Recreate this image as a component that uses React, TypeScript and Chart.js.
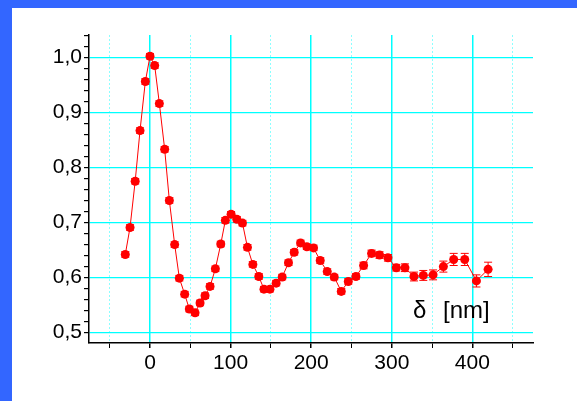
import React, { useEffect, useRef } from 'react';
import { Chart, registerables } from 'chart.js';

Chart.register(...registerables);

// Data
const xValues = [
  -30.7, -24.8, -18.4, -12.4, -5.8, 0, 5.8, 11.6, 18.2, 24, 30.6, 36.4, 43, 48.8, 55.9,
  62.1, 68.3, 74.5, 81.1, 87.8, 93.5, 100.6, 107.7, 114.7, 120.9, 127.6, 135, 141.4,
  148.8, 156.5, 164, 171.8, 178.9, 186.8, 194.6, 202.9, 211.2, 219.9, 228.6, 237.3,
  246, 255.5, 265, 274.9, 284.8, 295.2, 305.6, 316.3, 327.5, 339.1, 351.2, 364, 376.8,
  390.5, 405, 419.5,
];
const yValues = [
  0.642, 0.691, 0.775, 0.867, 0.956, 1.002, 0.985, 0.916, 0.833, 0.74, 0.66, 0.599, 0.57,
  0.543, 0.536, 0.554, 0.567, 0.584, 0.616, 0.661, 0.704, 0.715, 0.706, 0.699, 0.655,
  0.624, 0.602, 0.579, 0.579, 0.59, 0.601, 0.627, 0.646, 0.663, 0.656, 0.654, 0.631,
  0.611, 0.601, 0.575, 0.593, 0.602, 0.622, 0.644, 0.641, 0.636, 0.618, 0.618, 0.602,
  0.604, 0.605, 0.62, 0.633, 0.633, 0.594, 0.615,
];
const yErrors = [
  0.005, 0.005, 0.005, 0.005, 0.005, 0.005, 0.005, 0.005, 0.005, 0.005, 0.005, 0.005, 0.005,
  0.005, 0.005, 0.005, 0.005, 0.005, 0.005, 0.005, 0.005, 0.005, 0.005, 0.005, 0.005,
  0.005, 0.005, 0.005, 0.005, 0.005, 0.005, 0.005, 0.005, 0.005, 0.005, 0.005, 0.005,
  0.005, 0.005, 0.005, 0.005, 0.005, 0.006, 0.006, 0.006, 0.006, 0.006, 0.007, 0.008,
  0.009, 0.009, 0.01, 0.011, 0.011, 0.011, 0.013,
];
const xTickValues = [-50, 0, 50, 100, 150, 200, 250, 300, 350, 400, 450];
const xTickLabels = ['', '0', '', '100', '', '200', '', '300', '', '400', ''];
const yTickValues = [
  0.5, 0.52, 0.54, 0.56, 0.58, 0.6, 0.62, 0.64, 0.66, 0.68, 0.7, 0.72, 0.74, 0.76, 0.78,
  0.8, 0.82, 0.84, 0.86, 0.88, 0.9, 0.92, 0.94, 0.96, 0.98, 1.0, 1.02, 1.04,
];
const yMajorTicks = [0.5, 0.6, 0.7, 0.8, 0.9, 1.0];
const yTickLabels = ['0,5', '0,6', '0,7', '0,8', '0,9', '1,0'];
const axisSymbol = 'δ';
const axisUnit = '[nm]';

const isMajorX = (v: number) => Math.abs(v % 100) < 1e-6;
const yMajorIndex = (v: number) => yMajorTicks.findIndex((m) => Math.abs(m - v) < 1e-6);

const errorBarPlugin = {
  id: 'errorBars',
  afterDatasetsDraw(chart: any) {
    const { ctx, scales } = chart;
    const xs = scales.x;
    const ys = scales.y;
    ctx.save();
    ctx.strokeStyle = '#ff0000';
    ctx.lineWidth = 1;
    xValues.forEach((xv, i) => {
      const px = xs.getPixelForValue(xv);
      const top = ys.getPixelForValue(yValues[i] + yErrors[i]);
      const bot = ys.getPixelForValue(yValues[i] - yErrors[i]);
      ctx.beginPath();
      ctx.moveTo(px, top);
      ctx.lineTo(px, bot);
      ctx.moveTo(px - 4, top);
      ctx.lineTo(px + 4, top);
      ctx.moveTo(px - 4, bot);
      ctx.lineTo(px + 4, bot);
      ctx.stroke();
    });
    ctx.restore();
  },
};

const axisLabelPlugin = {
  id: 'axisLabel',
  afterDraw(chart: any) {
    const { ctx } = chart;
    ctx.save();
    ctx.fillStyle = '#000';
    ctx.textBaseline = 'alphabetic';
    ctx.textAlign = 'left';
    ctx.font = '24px "Liberation Sans", Arial, sans-serif';
    ctx.fillText(axisSymbol, 413, 318);
    ctx.fillText(axisUnit, 443, 318);
    ctx.restore();
  },
};

export default function App() {
  const canvasRef = useRef<HTMLCanvasElement | null>(null);

  useEffect(() => {
    const canvas = canvasRef.current;
    if (!canvas) return;
    const font = { family: '"Liberation Sans", Arial, sans-serif', size: 21 };
    const chart = new Chart(canvas, {
      type: 'scatter',
      data: {
        datasets: [
          {
            data: xValues.map((x, i) => ({ x, y: yValues[i] })),
            showLine: true,
            borderColor: '#ff0000',
            borderWidth: 1,
            backgroundColor: '#ff0000',
            pointBackgroundColor: '#ff0000',
            pointBorderWidth: 0,
            pointRadius: 4.5,
            tension: 0,
          },
        ],
      },
      options: {
        animation: false,
        responsive: false,
        layout: { padding: { left: 0, top: 35, right: 44, bottom: 0 } },
        plugins: { legend: { display: false }, tooltip: { enabled: false } },
        scales: {
          x: {
            type: 'linear',
            min: -75.7,
            max: 475.2,
            afterBuildTicks: (s: any) => {
              s.ticks = xTickValues.map((v) => ({ value: v }));
            },
            afterFit: (s: any) => {
              s.height = 58;
            },
            ticks: {
              autoSkip: false,
              maxRotation: 0,
              color: '#000',
              font,
              padding: 3,
              callback: (v: any) => {
                const i = xTickValues.indexOf(Number(v));
                return i >= 0 ? xTickLabels[i] : '';
              },
            },
            grid: {
              color: (c: any) => (c.tick && isMajorX(c.tick.value) ? '#00ffff' : '#8cffff'),
              lineWidth: (c: any) => (c.tick && isMajorX(c.tick.value) ? 1.5 : 1),
              tickColor: '#000',
              tickLength: 5,
            },
            border: {
              color: '#000',
              width: 1.5,
              dash: (c: any) => (c.tick && !isMajorX(c.tick.value) ? [2, 2] : []),
            },
          },
          y: {
            type: 'linear',
            min: 0.4813,
            max: 1.0405,
            afterBuildTicks: (s: any) => {
              s.ticks = yTickValues.map((v) => ({ value: v }));
            },
            afterFit: (s: any) => {
              s.width = 89;
            },
            ticks: {
              autoSkip: false,
              color: '#000',
              font,
              padding: 2,
              callback: (v: any) => {
                const i = yMajorIndex(Number(v));
                return i >= 0 ? yTickLabels[i] : '';
              },
            },
            grid: {
              color: (c: any) => (c.tick && yMajorIndex(c.tick.value) >= 0 ? '#00ffff' : 'rgba(0,0,0,0)'),
              lineWidth: 1.2,
              tickColor: '#000',
              tickLength: 5,
            },
            border: { color: '#000', width: 1.5 },
          },
        },
      },
      plugins: [errorBarPlugin, axisLabelPlugin],
    } as any);
    return () => chart.destroy();
  }, []);

  return (
    <div
      style={{
        position: 'fixed',
        left: 0,
        top: 0,
        width: 577,
        height: 401,
        background: '#3366ff',
        overflow: 'hidden',
      }}
    >
      <div
        style={{
          position: 'absolute',
          left: 12,
          top: 8,
          right: 0,
          bottom: 0,
          background: '#ffffff',
        }}
      />
      <canvas
        ref={canvasRef}
        width={577}
        height={401}
        style={{ position: 'absolute', left: 0, top: 0, width: 577, height: 401 }}
      />
    </div>
  );
}
